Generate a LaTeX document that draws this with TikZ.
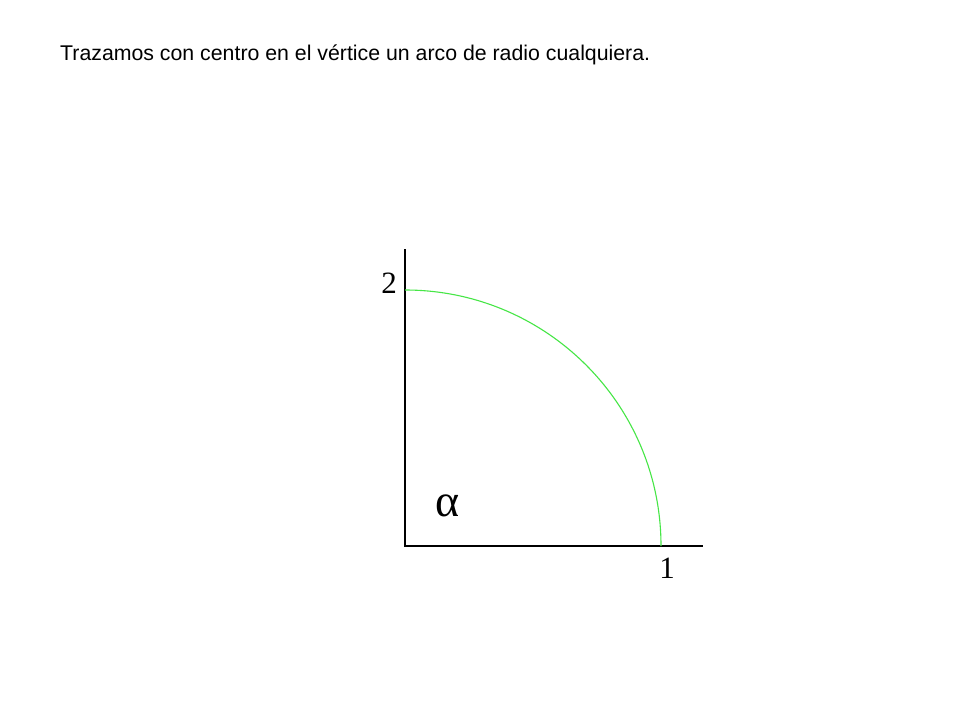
\documentclass[tikz,border=0pt]{standalone}
\usepackage{fontspec}
\setmainfont{Liberation Serif}
\newfontfamily\titlefont{Liberation Sans}
\definecolor{arcgreen}{RGB}{70,230,70}
\begin{document}
\begin{tikzpicture}[x=1pt,y=-1pt,
  axis/.style={draw=black,line width=1.6pt},
  arcline/.style={draw=arcgreen,line width=1.1pt},
  numlabel/.style={font=\fontsize{31}{33}\selectfont,inner sep=0pt},
  anglabel/.style={font=\fontsize{46}{48}\selectfont,inner sep=0pt}]
\useasboundingbox[fill=white] (0,0) rectangle (960,720);
\node[anchor=base west,inner sep=0pt,font=\titlefont\fontsize{21.3}{23}\selectfont] (title) at (60,60) {Trazamos con centro en el vértice un arco de radio cualquiera.};
\coordinate (O) at (405,546);
\coordinate (top) at (405,249);
\coordinate (right) at (703,546);
\coordinate (A) at (661,546);
\coordinate (B) at (405,290);
\draw[axis] (top) -- (O) -- (right);
\draw[arcline] (A) arc[start angle=0,end angle=-90,radius=256];
\node[numlabel,anchor=base] (two) at (389,293) {2};
\node[numlabel,anchor=base] (one) at (667,578) {1};
\node[anglabel] (alpha) at (447.5,505.5) {α};
\end{tikzpicture}
\end{document}
